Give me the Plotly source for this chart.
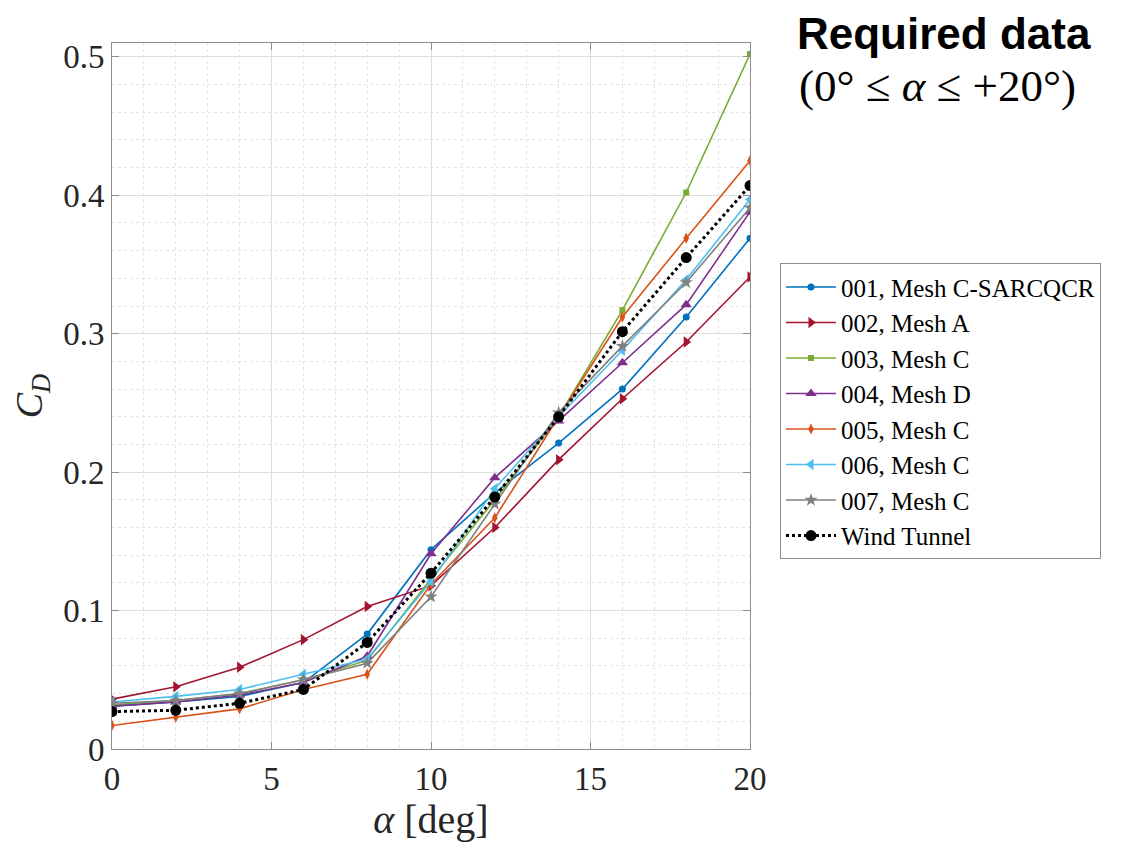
import plotly.graph_objects as go

# ---- data ----
alpha = [0, 2, 4, 6, 8, 10, 12, 14, 16, 18, 20]

cd_001 = [0.031, 0.034, 0.038, 0.048, 0.083, 0.144, 0.185, 0.221, 0.260, 0.312, 0.369]
cd_002 = [0.036, 0.045, 0.059, 0.079, 0.103, 0.118, 0.160, 0.209, 0.253, 0.294, 0.341]
cd_003 = [0.032, 0.035, 0.040, 0.050, 0.064, 0.123, 0.180, 0.240, 0.317, 0.402, 0.502]
cd_004 = [0.031, 0.034, 0.039, 0.048, 0.067, 0.141, 0.196, 0.237, 0.279, 0.321, 0.388]
cd_005 = [0.017, 0.023, 0.029, 0.043, 0.054, 0.119, 0.167, 0.240, 0.312, 0.369, 0.425]
cd_006 = [0.034, 0.038, 0.043, 0.054, 0.065, 0.121, 0.188, 0.240, 0.288, 0.339, 0.397]
cd_007 = [0.033, 0.035, 0.040, 0.050, 0.062, 0.110, 0.177, 0.243, 0.291, 0.337, 0.391]
cd_wt  = [0.027, 0.028, 0.033, 0.043, 0.077, 0.127, 0.182, 0.240, 0.3015, 0.355, 0.407]

names = ["001, Mesh C-SARCQCR", "002, Mesh A", "003, Mesh C", "004, Mesh D",
         "005, Mesh C", "006, Mesh C", "007, Mesh C", "Wind Tunnel"]

x_tickvals = [0, 5, 10, 15, 20]
x_ticktext = ["0", "5", "10", "15", "20"]
y_tickvals = [0, 0.1, 0.2, 0.3, 0.4, 0.5]
y_ticktext = ["0", "0.1", "0.2", "0.3", "0.4", "0.5"]

# ---- styles ----
colors = ["#0072BD", "#A2142F", "#77AC30", "#7E2F8E", "#D95319", "#4DBEEE", "#808080", "#000000"]
symbols = ["circle", "triangle-right", "square", "triangle-up", "diamond-tall",
           "triangle-left", "star", "circle"]
sizes = [7, 10, 6, 10, 8, 10, 10, 11]

series = [cd_001, cd_002, cd_003, cd_004, cd_005, cd_006, cd_007, cd_wt]

fig = go.Figure()
for i, (nm, ys) in enumerate(zip(names, series)):
    is_wt = nm == "Wind Tunnel"
    fig.add_trace(go.Scatter(
        x=alpha, y=ys, name=nm, mode="lines+markers",
        line=dict(color=colors[i], width=3 if is_wt else 1.6,
                  dash="dot" if is_wt else "solid"),
        marker=dict(symbol=symbols[i], size=sizes[i], color=colors[i],
                    line=dict(width=0)),
    ))

serif = "Liberation Serif, Times New Roman, serif"
axis_line = "#8c8c8c"

# page body has an 8px margin, so the figure is shrunk and offset accordingly
W, H = 1124, 834
fig.update_layout(
    width=W, height=H,
    paper_bgcolor="white", plot_bgcolor="white",
    margin=dict(l=104, r=382, t=35, b=93, autoexpand=False),
    font=dict(family=serif, color="#262626"),
    title=dict(text="<b>Required data</b>",
               font=dict(family="Liberation Sans, Arial, sans-serif", size=44, color="black"),
               x=789 / W, xanchor="left", xref="container",
               y=1 - 26 / H, yanchor="middle", yref="container"),
    legend=dict(x=1.047, y=0.688, xanchor="left", yanchor="top",
                bgcolor="white", bordercolor="#8c8c8c", borderwidth=1,
                font=dict(family=serif, size=25, color="black"),
                itemwidth=50, tracegroupgap=0),
    showlegend=True,
)

fig.add_annotation(
    text="(0°\u00a0≤\u00a0<i>α</i>\u00a0≤\u00a0+20°)", xref="paper", yref="paper",
    x=(789 - 104) / 638, y=(741 - 78) / 706, xanchor="left", yanchor="middle",
    showarrow=False, font=dict(family=serif, size=45, color="black"),
)

fig.update_xaxes(
    range=[0, 20], tickvals=x_tickvals, ticktext=x_ticktext, automargin=False,
    ticks="inside", ticklen=7, tickcolor=axis_line, tickwidth=1,
    showline=True, linecolor=axis_line, linewidth=1, mirror="ticks",
    showgrid=True, gridcolor="#dedede", gridwidth=1, zeroline=False,
    tickfont=dict(size=33, family=serif, color="#262626"),
    minor=dict(dtick=1, showgrid=True, gridcolor="#e4e4e4", griddash="dot", ticks=""),
    title=dict(text="<i>α</i> [deg]", font=dict(size=40, family=serif, color="#262626"),
               standoff=10),
)
fig.update_yaxes(
    range=[0, 0.51], tickvals=y_tickvals, ticktext=y_ticktext, automargin=False,
    ticks="inside", ticklen=7, tickcolor=axis_line, tickwidth=1,
    showline=True, linecolor=axis_line, linewidth=1, mirror="ticks",
    showgrid=True, gridcolor="#dedede", gridwidth=1, zeroline=False,
    tickfont=dict(size=33, family=serif, color="#262626"),
    minor=dict(dtick=0.02, showgrid=True, gridcolor="#e4e4e4", griddash="dot", ticks=""),
    title=dict(text="<i>C</i><sub><i>D</i></sub>", font=dict(size=38, family=serif, color="#262626"),
               standoff=12),
)

fig.write_html("out.html")
